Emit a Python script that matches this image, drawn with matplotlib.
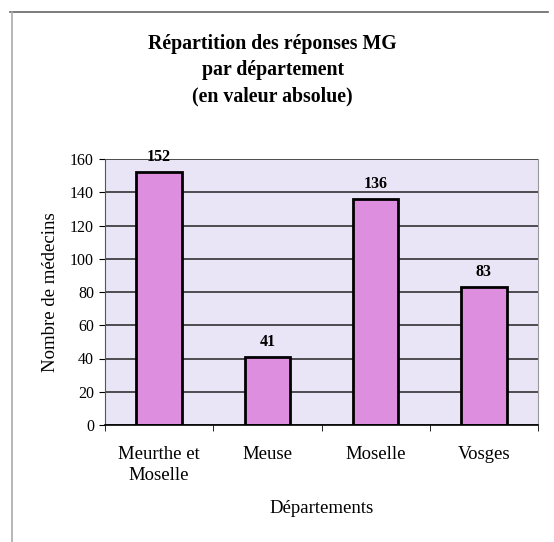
import numpy as np
import matplotlib.pyplot as plt
from matplotlib.lines import Line2D

plt.rcParams['font.family'] = ['Liberation Serif', 'DejaVu Serif']

# data
departements = ["Meurthe et\nMoselle", "Meuse", "Moselle", "Vosges"]
medecins = [152, 41, 136, 83]
yticks = [0, 20, 40, 60, 80, 100, 120, 140, 160]

fig = plt.figure(figsize=(5.54, 5.42), dpi=100)
ax = fig.add_axes([105 / 554, 1 - 425 / 542, 433 / 554, 266 / 542])

x = np.arange(len(departements))
ax.set_facecolor('#E9E5F7')
ax.set_axisbelow(True)
ax.yaxis.grid(True, color='#222222', linewidth=1.1)
bars = ax.bar(x, medecins, width=0.42, color='#DE8EDE', edgecolor='black', linewidth=2)

# value labels above bars
for xi, v in zip(x, medecins):
    ax.annotate(str(v), (xi, v), xytext=(0, 5), textcoords='offset points',
                ha='center', va='bottom', fontsize=11.5, fontweight='bold')

ax.set_xlim(-0.5, len(departements) - 0.5)
ax.set_ylim(0, 160)
ax.set_yticks(yticks)
ax.set_xticks(np.arange(len(departements) + 1) - 0.5, minor=True)
ax.set_xticks(x)
ax.set_xticklabels(departements, fontsize=13.5, linespacing=1.3)
ax.tick_params(axis='x', which='major', length=0, pad=15)
ax.tick_params(axis='x', which='minor', length=4, direction='out', color='black')
ax.tick_params(axis='y', labelsize=11.5, length=4, direction='out', pad=4)

ax.spines['top'].set_visible(False)
ax.spines['right'].set_color('#999999')
ax.spines['left'].set_color('#555555')
ax.spines['bottom'].set_linewidth(1.2)

ax.set_ylabel("Nombre de médecins", fontsize=13.5, labelpad=8)
ax.set_xlabel("Départements", fontsize=13.5, labelpad=12)

fig.text(0.492, 1 - 70 / 542,
         "Répartition des réponses MG\npar département\n(en valeur absolue)",
         ha='center', va='center', fontsize=14.3, fontweight='bold', linespacing=1.42)

# scanned frame edges
fig.add_artist(Line2D([10 / 554, 548 / 554], [1 - 12 / 542, 1 - 12 / 542], color='#666666', lw=1.2))
fig.add_artist(Line2D([12 / 554, 12 / 554], [0.0, 1 - 12 / 542], color='#AAAAAA', lw=1.2))

fig.savefig("out.png", dpi=100)
